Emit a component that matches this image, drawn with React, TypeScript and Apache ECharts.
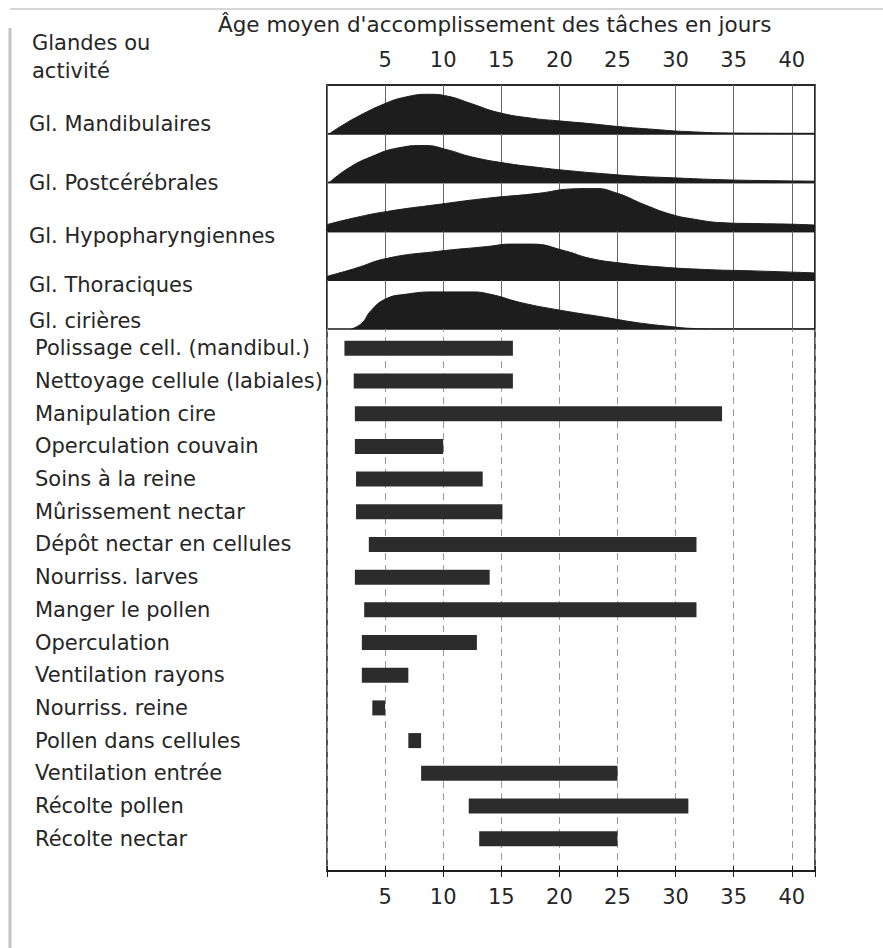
import React, { useEffect, useRef } from "react";
import * as echarts from "echarts";

// ---------- data ----------
const xTickLabels = ["5", "10", "15", "20", "25", "30", "35", "40"];
const titleText = "Âge moyen d'accomplissement des tâches en jours";
const cornerText = "Glandes ou\nactivité";

const glandNames = [
  "Gl. Mandibulaires",
  "Gl. Postcérébrales",
  "Gl. Hypopharyngiennes",
  "Gl. Thoraciques",
  "Gl. cirières",
];

// relative gland activity (0..1 of band height) by age in days
const mandibulaires: [number, number][] = [
  [0.2, 0], [1.3, 0.17], [2.7, 0.36], [5.0, 0.62], [6.7, 0.75], [8.7, 0.81],
  [10.4, 0.77], [12.4, 0.62], [14.7, 0.44], [17.6, 0.32], [20.2, 0.26],
  [23.0, 0.2], [25.0, 0.15], [28.2, 0.09], [31.0, 0.045], [35.3, 0.015], [42, 0.01],
];
const postcerebrales: [number, number][] = [
  [0.2, 0], [1.8, 0.29], [3.8, 0.53], [6.1, 0.71], [8.4, 0.76], [10.4, 0.67],
  [12.4, 0.53], [15.3, 0.4], [18.2, 0.31], [21.0, 0.24], [23.9, 0.18],
  [26.7, 0.13], [29.6, 0.1], [33.9, 0.06], [38.2, 0.04], [42, 0.03],
];
const hypopharyngiennes: [number, number][] = [
  [0, 0.14], [2.4, 0.28], [5.2, 0.41], [9.5, 0.55], [13.8, 0.68], [18.2, 0.78],
  [21.0, 0.87], [23.0, 0.88], [25.0, 0.78], [27.3, 0.55], [29.6, 0.35],
  [31.6, 0.25], [33.9, 0.18], [36.8, 0.16], [39.6, 0.15], [42, 0.13],
];
const thoraciques: [number, number][] = [
  [0, 0.08], [2.4, 0.24], [5.2, 0.45], [9.5, 0.59], [13.8, 0.69], [15.9, 0.74],
  [17.6, 0.74], [20.5, 0.6], [22.6, 0.45], [25.3, 0.35], [28.2, 0.28],
  [32.5, 0.22], [36.8, 0.19], [42, 0.15],
];
const cirieres: [number, number][] = [
  [2.1, 0], [3.0, 0.12], [3.8, 0.38], [5.0, 0.61], [6.7, 0.71], [9.5, 0.76],
  [12.4, 0.76], [14.1, 0.71], [16.7, 0.54], [20.2, 0.38], [23.9, 0.24],
  [26.7, 0.13], [29.6, 0.05], [31.6, 0.01], [33.9, 0], [42, 0],
];
const glandCurves = [mandibulaires, postcerebrales, hypopharyngiennes, thoraciques, cirieres];

const activities = [
  "Polissage cell. (mandibul.)",
  "Nettoyage cellule (labiales)",
  "Manipulation cire",
  "Operculation couvain",
  "Soins à la reine",
  "Mûrissement nectar",
  "Dépôt nectar en cellules",
  "Nourriss. larves",
  "Manger le pollen",
  "Operculation",
  "Ventilation rayons",
  "Nourriss. reine",
  "Pollen dans cellules",
  "Ventilation entrée",
  "Récolte pollen",
  "Récolte nectar",
];
const activityStart = [1.5, 2.3, 2.4, 2.4, 2.5, 2.5, 3.6, 2.4, 3.2, 3.0, 3.0, 3.9, 7.0, 8.1, 12.2, 13.1];
const activityEnd = [16.0, 16.0, 34.0, 10.0, 13.4, 15.1, 31.8, 14.0, 31.8, 12.9, 7.0, 5.0, 8.1, 25.0, 31.1, 25.0];

// ---------- layout / style ----------
const FONT = "DejaVu Sans";
const TXT = "#262626";
const INK = "#1d1d1d";
const L = 327;
const PW = 488;
const TOP = 85;
const BAND = 48.8;
const AXIS_BOTTOM = 871;
const BAR_TOP = 332;
const BAR_H = 523;
const X_MAX = 42;
// vertical offset (px) of each gland label from its band's baseline
const glandLabelShift = [-10, 0, 5, 5, -8];

export default function App() {
  const ref = useRef<HTMLDivElement>(null);
  useEffect(() => {
    if (!ref.current) return;
    const chart = echarts.init(ref.current, undefined, { renderer: "svg" });

    const tickFmt = (v: number) => {
      const s = String(v);
      return xTickLabels.includes(s) ? s : "";
    };

    const grids: any[] = [
      { left: L, top: TOP, width: PW, height: AXIS_BOTTOM - TOP, show: true, borderColor: INK, borderWidth: 1.5 },
    ];
    glandNames.forEach((_, i) => {
      grids.push({ left: L, top: TOP + i * BAND, width: PW, height: BAND, show: true, borderColor: INK, borderWidth: 1.5 });
    });
    grids.push({ left: L, top: BAR_TOP, width: PW, height: BAR_H });

    const xAxes: any[] = [
      {
        gridIndex: 0, type: "value", position: "top", min: 0, max: X_MAX, interval: 5,
        axisLine: { show: true, lineStyle: { color: INK, width: 1.5 } },
        axisTick: { show: true, length: 5, lineStyle: { color: INK } },
        axisLabel: { formatter: tickFmt, fontFamily: FONT, fontSize: 21, color: TXT, margin: 15 },
        splitLine: { show: false },
      },
      {
        gridIndex: 0, type: "value", position: "bottom", min: 0, max: X_MAX, interval: 5,
        axisLine: { show: true, lineStyle: { color: INK, width: 1.5 } },
        axisTick: { show: true, length: 6, lineStyle: { color: INK } },
        axisLabel: { formatter: tickFmt, fontFamily: FONT, fontSize: 21, color: TXT, margin: 15 },
        splitLine: { show: true, lineStyle: { color: "#9a9a9a", width: 1, type: [7, 5] } },
      },
    ];
    glandNames.forEach((_, i) => {
      xAxes.push({
        gridIndex: i + 1, type: "value", min: 0, max: X_MAX, interval: 5,
        axisLine: { show: false }, axisTick: { show: false }, axisLabel: { show: false },
        splitLine: { show: true, lineStyle: { color: "#666", width: 1 } },
      });
    });
    xAxes.push({ gridIndex: 6, type: "value", min: 0, max: X_MAX, show: false });

    const yAxes: any[] = [{ gridIndex: 0, type: "value", show: false, min: 0, max: 1 }];
    glandNames.forEach((name, i) => {
      const d = glandLabelShift[i];
      const va = d > 0 ? "top" : d < 0 ? "bottom" : "middle";
      const lh = d === 0 ? 24 : Math.abs(d) * 2;
      yAxes.push({
        gridIndex: i + 1, type: "value", min: 0, max: 1, interval: 1,
        axisLine: { show: false }, axisTick: { show: false }, splitLine: { show: false },
        axisLabel: {
          formatter: (v: number) => (v === 0 ? name : ""),
          align: "left", verticalAlign: va, lineHeight: lh,
          margin: L - 29, fontFamily: FONT, fontSize: 21, color: TXT,
        },
      });
    });
    yAxes.push({
      gridIndex: 6, type: "category", inverse: true, data: activities,
      axisLine: { show: false }, axisTick: { show: false }, splitLine: { show: false },
      axisLabel: { interval: 0, align: "left", margin: L - 35, fontFamily: FONT, fontSize: 21, color: TXT },
    });

    const series: any[] = glandCurves.map((curve, i) => ({
      type: "line",
      name: glandNames[i],
      xAxisIndex: i + 2,
      yAxisIndex: i + 1,
      data: curve,
      smooth: 0.5,
      symbol: "none",
      lineStyle: { color: INK, width: 1 },
      areaStyle: { color: INK, opacity: 1 },
      z: 3,
    }));
    series.push({
      type: "bar", name: "base", stack: "tasks", xAxisIndex: 7, yAxisIndex: 6,
      data: activityStart, barWidth: 15, itemStyle: { color: "transparent" }, silent: true,
    });
    series.push({
      type: "bar", name: "durée", stack: "tasks", xAxisIndex: 7, yAxisIndex: 6,
      data: activityEnd.map((e, i) => +(e - activityStart[i]).toFixed(2)),
      barWidth: 15, itemStyle: { color: "#2c2c2c" }, z: 3,
    });

    chart.setOption({
      animation: false,
      backgroundColor: "#ffffff",
      title: [
        { text: titleText, left: 213, top: 8, textStyle: { fontFamily: FONT, fontSize: 21.5, fontWeight: "normal", color: TXT } },
        { text: cornerText, left: 27, top: 24, textStyle: { fontFamily: FONT, fontSize: 21, fontWeight: "normal", color: TXT, lineHeight: 28 } },
      ],
      grid: grids,
      xAxis: xAxes,
      yAxis: yAxes,
      series,
      graphic: [
        { type: "line", shape: { x1: 10, y1: 28, x2: 10, y2: 948 }, style: { stroke: "#c4c4c4", lineWidth: 3 }, silent: true },
        { type: "line", shape: { x1: 10, y1: 9, x2: 883, y2: 9 }, style: { stroke: "#d6d6d6", lineWidth: 2 }, silent: true },
      ],
    });
    return () => chart.dispose();
  }, []);

  return <div ref={ref} style={{ position: "fixed", left: 0, top: 0, width: 883, height: 948, background: "#fff" }} />;
}
